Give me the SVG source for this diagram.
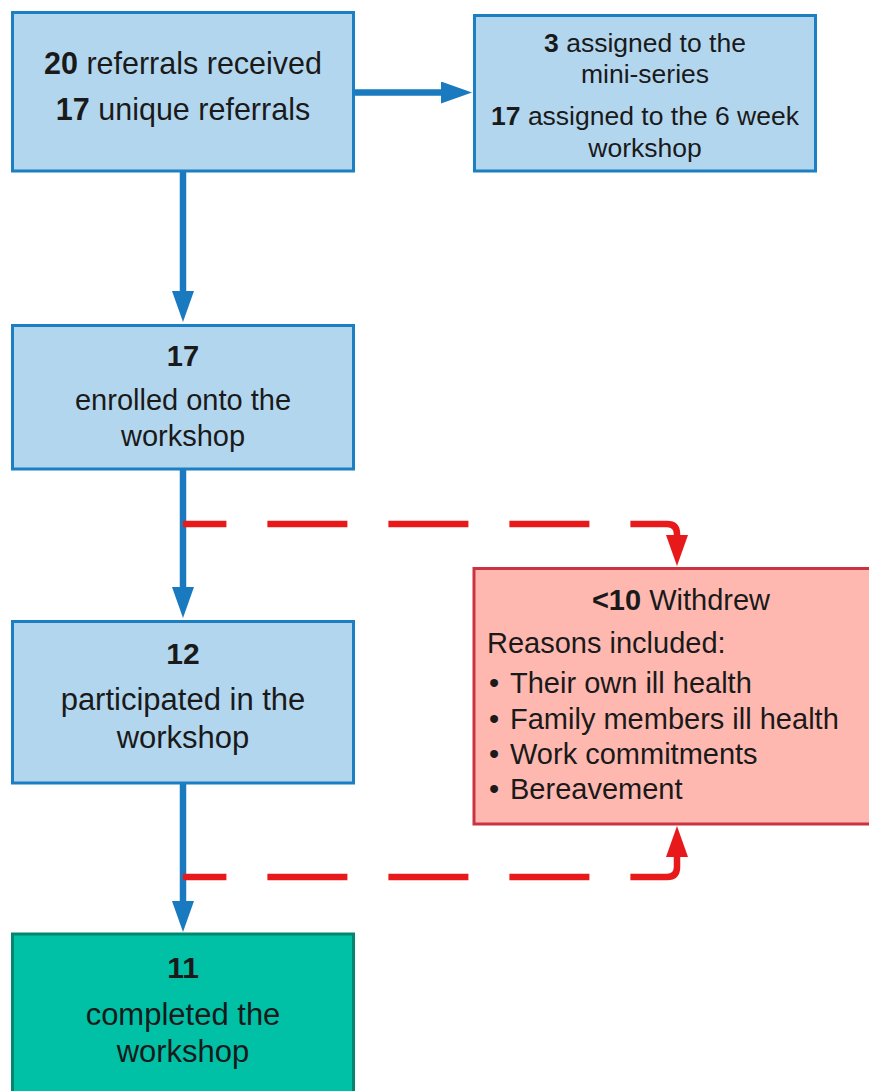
<svg xmlns="http://www.w3.org/2000/svg" width="869" height="1091" viewBox="0 0 869 1091">
<style>
  .blue { fill: #b3d6ef; stroke: #1b7fc1; stroke-width: 3; }
  .teal { fill: #00c0a6; stroke: #03866f; stroke-width: 3; }
  .redbox { fill: #ffb8b0; stroke: #cc3340; stroke-width: 3; }
  text { font-family: "Liberation Sans", Arial, sans-serif; fill: #1a1a1a; }
  .c { text-anchor: middle; }
  .b { font-weight: bold; }
  .r { font-size: 29px; }
  .bl { fill: none; stroke: #1a7abf; stroke-width: 6.5; }
  .rd { fill: none; stroke: #e8191a; stroke-width: 6.5; stroke-dasharray: 80 41; stroke-dashoffset: 36.6; }
</style>
<defs>
  <marker id="ab" markerUnits="userSpaceOnUse" markerWidth="31" markerHeight="22" refX="0" refY="11" orient="auto">
    <path d="M0,0 L31,11 L0,22 z" fill="#1a7abf"/>
  </marker>
  <marker id="ar" markerUnits="userSpaceOnUse" markerWidth="31" markerHeight="22" refX="0" refY="11" orient="auto">
    <path d="M0,0 L31,11 L0,22 z" fill="#e8191a"/>
  </marker>
</defs>
<rect width="869" height="1091" fill="#ffffff"/>
<g id="connectors">
  <path class="bl" d="M354,92.5 H441" marker-end="url(#ab)"/>
  <path class="bl" d="M183,171 V291" marker-end="url(#ab)"/>
  <path class="bl" d="M183,469 V587" marker-end="url(#ab)"/>
  <path class="bl" d="M183,783 V901" marker-end="url(#ab)"/>
  <path class="rd" d="M183,524 H667 Q677,524 677,534 V535" marker-end="url(#ar)"/>
  <path class="rd" d="M183,877 H667 Q677,877 677,867 V857" marker-end="url(#ar)"/>
</g>
<g id="node-referrals">
  <rect class="blue" x="12.5" y="12.5" width="341" height="158.5"/>
  <text class="c" x="183" y="74" font-size="30.5"><tspan class="b">20</tspan> referrals received</text>
  <text class="c" x="183" y="120" font-size="30.5"><tspan class="b">17</tspan> unique referrals</text>
</g>
<g id="node-assigned">
  <rect class="blue" x="474.5" y="15.5" width="341" height="155.5"/>
  <text class="c" x="645" y="52" font-size="26.5"><tspan class="b">3</tspan> assigned to the</text>
  <text class="c" x="645" y="83" font-size="26.5">mini-series</text>
  <text class="c" x="645" y="125" font-size="26.5"><tspan class="b">17</tspan> assigned to the 6 week</text>
  <text class="c" x="645" y="157" font-size="26.5">workshop</text>
</g>
<g id="node-enrolled">
  <rect class="blue" x="12.5" y="325.5" width="341" height="143.5"/>
  <text class="c b" x="183" y="366" font-size="29">17</text>
  <text class="c" x="183" y="410" font-size="29">enrolled onto the</text>
  <text class="c" x="183" y="446" font-size="29">workshop</text>
</g>
<g id="node-participated">
  <rect class="blue" x="12.5" y="621.5" width="341" height="161.5"/>
  <text class="c b" x="183" y="664" font-size="30">12</text>
  <text class="c" x="183" y="710" font-size="31">participated in the</text>
  <text class="c" x="183" y="748" font-size="31">workshop</text>
</g>
<g id="node-withdrew">
  <rect class="redbox" x="474" y="568.5" width="410" height="255.5"/>
  <text class="c r" x="681" y="610"><tspan class="b">&lt;10</tspan> Withdrew</text>
  <text class="r" x="487" y="653">Reasons included:</text>
  <text class="r" x="489" y="693">•<tspan x="510">Their own ill health</tspan></text>
  <text class="r" x="489" y="729">•<tspan x="510">Family members ill health</tspan></text>
  <text class="r" x="489" y="764">•<tspan x="510">Work commitments</tspan></text>
  <text class="r" x="489" y="799">•<tspan x="510">Bereavement</tspan></text>
</g>
<g id="node-completed">
  <rect class="teal" x="12.5" y="934" width="341" height="170"/>
  <text class="c b" x="183" y="978" font-size="30">11</text>
  <text class="c" x="183" y="1025" font-size="31">completed the</text>
  <text class="c" x="183" y="1062" font-size="31">workshop</text>
</g>
</svg>
